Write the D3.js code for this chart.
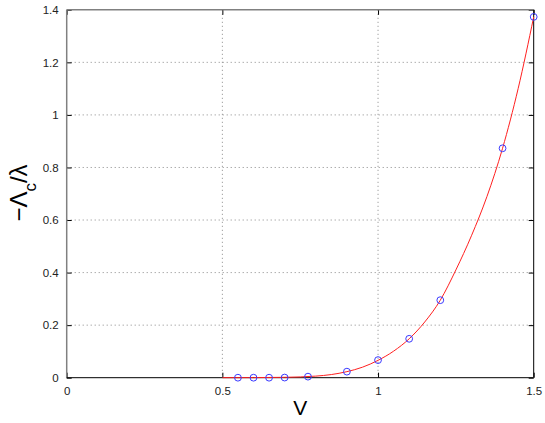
<!DOCTYPE html>
<html lang="en">
<head>
<meta charset="utf-8">
<title>-Lambda_c/lambda vs V</title>
<script src="https://cdn.jsdelivr.net/npm/d3@7"></script>
<style>
body { margin: 0; background: #fff; }
text { font-family: "Liberation Sans", Arial, sans-serif; }
.tick text { font-size: 11.5px; fill: #222; }
</style>
</head>
<body>
<script>
// measured points (blue circles)
var pointX = [0.55, 0.6, 0.65, 0.7, 0.775, 0.9, 1.0, 1.1, 1.2, 1.4, 1.5];
var pointY = [0.0, 0.0, 0.0, 0.0005, 0.004, 0.023, 0.067, 0.148, 0.295, 0.873, 1.373];

// fitted curve (red line)
var curveX = [0.5, 0.6, 0.7, 0.8, 0.85, 0.9, 0.95, 1.0, 1.05, 1.1, 1.15, 1.2, 1.25, 1.3, 1.35, 1.4, 1.45, 1.5];
var curveY = [0, 0.0003, 0.0015, 0.006, 0.012, 0.023, 0.040, 0.066, 0.101, 0.148, 0.212, 0.295, 0.41, 0.54, 0.69, 0.873, 1.10, 1.373];

var xTicks = [0, 0.5, 1, 1.5];
var yTicks = [0, 0.2, 0.4, 0.6, 0.8, 1, 1.2, 1.4];

var w = 545, h = 423;
var pLeft = 66.7, pRight = 533.7, pTop = 9.8, pBottom = 377.7;

var x = d3.scaleLinear().domain([0, 1.5]).range([pLeft, pRight]);
var y = d3.scaleLinear().domain([0, 1.4]).range([pBottom, pTop]);

var svg = d3.select('body').append('svg')
    .attr('width', w)
    .attr('height', h);

// grid
svg.append('g').selectAll('line')
    .data(xTicks.filter(function(d) { return d > 0 && d < 1.5; }))
    .enter().append('line')
    .attr('x1', function(d) { return x(d); })
    .attr('x2', function(d) { return x(d); })
    .attr('y1', pTop).attr('y2', pBottom)
    .attr('stroke', '#888').attr('stroke-width', 1)
    .attr('stroke-dasharray', '1,3');

svg.append('g').selectAll('line')
    .data(yTicks.filter(function(d) { return d > 0 && d < 1.4; }))
    .enter().append('line')
    .attr('x1', pLeft).attr('x2', pRight)
    .attr('y1', function(d) { return y(d); })
    .attr('y2', function(d) { return y(d); })
    .attr('stroke', '#888').attr('stroke-width', 1)
    .attr('stroke-dasharray', '1,3');

// axes (ticks inward)
var xAxis = svg.append('g')
    .attr('transform', 'translate(0,' + pBottom + ')')
    .call(d3.axisBottom(x).tickValues(xTicks).tickFormat(d3.format('')).tickSizeInner(-5).tickSizeOuter(0).tickPadding(9));
xAxis.select('.domain').remove();
xAxis.selectAll('.tick line').attr('stroke', '#000');

var yAxis = svg.append('g')
    .attr('transform', 'translate(' + pLeft + ',0)')
    .call(d3.axisLeft(y).tickValues(yTicks).tickFormat(d3.format('')).tickSizeInner(-5).tickSizeOuter(0).tickPadding(8));
yAxis.select('.domain').remove();
yAxis.selectAll('.tick line').attr('stroke', '#000');

// right/top ticks
var rightAxis = svg.append('g')
    .attr('transform', 'translate(' + pRight + ',0)')
    .call(d3.axisRight(y).tickValues(yTicks).tickFormat('').tickSizeInner(-5).tickSizeOuter(0));
rightAxis.select('.domain').remove();
rightAxis.selectAll('.tick line').attr('stroke', '#000');

var topAxis = svg.append('g')
    .attr('transform', 'translate(0,' + pTop + ')')
    .call(d3.axisTop(x).tickValues(xTicks).tickFormat('').tickSizeInner(-5).tickSizeOuter(0));
topAxis.select('.domain').remove();
topAxis.selectAll('.tick line').attr('stroke', '#000');

// box: left/top gray, bottom/right black
svg.append('line').attr('x1', pLeft).attr('x2', pLeft).attr('y1', pTop).attr('y2', pBottom)
    .attr('stroke', '#808080').attr('stroke-width', 1.5);
svg.append('line').attr('x1', pLeft).attr('x2', pRight).attr('y1', pTop).attr('y2', pTop)
    .attr('stroke', '#808080').attr('stroke-width', 1.5);
svg.append('line').attr('x1', pLeft).attr('x2', pRight).attr('y1', pBottom).attr('y2', pBottom)
    .attr('stroke', '#000').attr('stroke-width', 1);
svg.append('line').attr('x1', pRight).attr('x2', pRight).attr('y1', pTop).attr('y2', pBottom)
    .attr('stroke', '#000').attr('stroke-width', 1);

// red curve
var curveData = curveX.map(function(d, i) { return [d, curveY[i]]; });
var line = d3.line()
    .x(function(d) { return x(d[0]); })
    .y(function(d) { return y(d[1]); })
    .curve(d3.curveMonotoneX);

svg.append('path')
    .datum(curveData)
    .attr('d', line)
    .attr('fill', 'none')
    .attr('stroke', '#ff2020')
    .attr('stroke-width', 1);

// blue circles
svg.append('g').selectAll('circle')
    .data(pointX.map(function(d, i) { return [d, pointY[i]]; }))
    .enter().append('circle')
    .attr('cx', function(d) { return x(d[0]); })
    .attr('cy', function(d) { return y(d[1]); })
    .attr('r', 3.4)
    .attr('fill', 'none')
    .attr('stroke', '#3a3aff')
    .attr('stroke-width', 1);

// axis labels
svg.append('text')
    .attr('x', x(0.75))
    .attr('y', 415)
    .attr('text-anchor', 'middle')
    .attr('font-size', 21)
    .attr('fill', '#000')
    .text('V');

var ylab = svg.append('text')
    .attr('transform', 'translate(27,' + 193 + ') rotate(-90)')
    .attr('text-anchor', 'middle')
    .attr('font-size', 24)
    .attr('fill', '#000');
ylab.append('tspan').text('\u2212\u039b');
ylab.append('tspan').attr('font-size', 17).attr('dy', 9).text('c');
ylab.append('tspan').attr('dy', -9).text('/\u03bb');
</script>
</body>
</html>
